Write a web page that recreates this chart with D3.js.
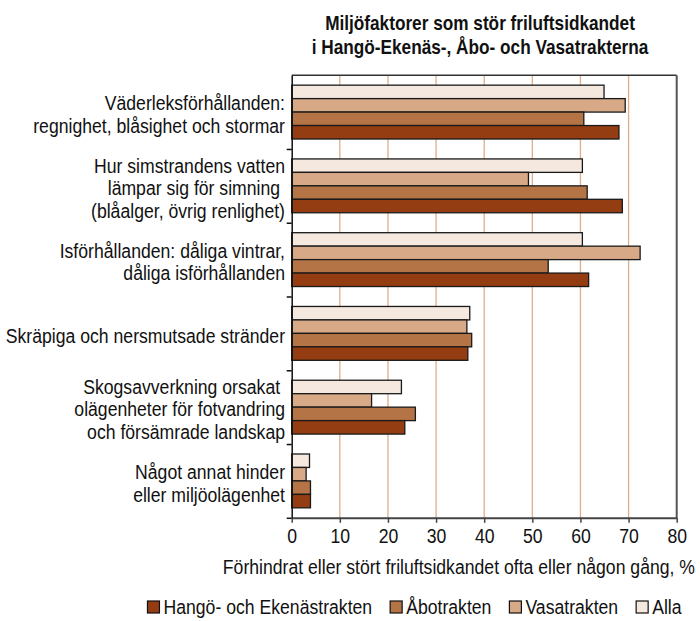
<!DOCTYPE html>
<html>
<head>
<meta charset="utf-8">
<script src="https://cdn.jsdelivr.net/npm/d3@7"></script>
<style>
  body { margin: 0; background: #fff; }
  text { font-family: "Liberation Sans", Arial, sans-serif; }
</style>
</head>
<body>
<div id="chart"></div>
<script>
// chart data
var categories = [
    ['Väderleksförhållanden:', 'regnighet, blåsighet och stormar'],
    ['Hur simstrandens vatten', 'lämpar sig för simning ', '(blåalger, övrig renlighet)'],
    ['Isförhållanden: dåliga vintrar,', 'dåliga isförhållanden'],
    ['Skräpiga och nersmutsade stränder'],
    ['Skogsavverkning orsakat ', 'olägenheter för fotvandring', 'och försämrade landskap'],
    ['Något annat hinder', 'eller miljöolägenhet']
]
var seriesNames = ['Hangö- och Ekenästrakten', 'Åbotrakten', 'Vasatrakten', 'Alla']
var hango = [68.0, 68.7, 61.7, 36.6, 23.5, 3.9]
var abo   = [60.7, 61.4, 53.3, 37.4, 25.7, 3.9]
var vasa  = [69.3, 49.2, 72.4, 36.4, 16.6, 3.0]
var alla  = [64.9, 60.4, 60.4, 37.0, 22.8, 3.7]
var xTicks = [0, 10, 20, 30, 40, 50, 60, 70, 80]
var titleLines = ['Miljöfaktorer som stör friluftsidkandet', 'i Hangö-Ekenäs-, Åbo- och Vasatrakterna']
var xTitle = 'Förhindrat eller stört friluftsidkandet ofta eller någon gång, %'

var colors = {
    'Hangö- och Ekenästrakten' : '#943c12',
    'Åbotrakten' : '#b57446',
    'Vasatrakten' : '#d8a987',
    'Alla' : '#f4e8df'
}
var seriesValues = {
    'Hangö- och Ekenästrakten' : hango,
    'Åbotrakten' : abo,
    'Vasatrakten' : vasa,
    'Alla' : alla
}
// bars run top to bottom in reverse legend order
var barOrder = seriesNames.slice().reverse()

var W = 700, H = 621
var plot = {left: 291.7, right: 676.7, top: 75.2, bottom: 517.8}
var fontSize = 21
var narrow = 0.84      // the original uses a narrow face, squeeze the regular one
var narrowBold = 0.82

var svg = d3.select('#chart')
    .append('svg')
    .attr('width', W)
    .attr('height', H)

function place(px, py, k){
    return 'translate(' + px + ',' + py + ') scale(' + (k || narrow) + ',1)'
}

var x = d3.scaleLinear()
    .domain([0, 80])
    .range([plot.left, plot.right])

var y = d3.scaleBand()
    .domain(d3.range(categories.length))
    .range([plot.top, plot.bottom])
    .paddingInner(0.27)
    .paddingOuter(0.135)

var ySub = d3.scaleBand()
    .domain(barOrder)
    .range([0, y.bandwidth()])

// group boundaries for the tick marks on the left axis
var yEdge = d3.scaleLinear()
    .domain([0, categories.length])
    .range([plot.top, plot.bottom])

// vertical grid lines
svg.append('g')
    .selectAll('line')
    .data(xTicks.filter(d => d > 0 && d < 80))
    .join('line')
    .attr('x1', d => x(d))
    .attr('x2', d => x(d))
    .attr('y1', plot.top)
    .attr('y2', plot.bottom)
    .attr('stroke', '#e0ad88')
    .attr('stroke-width', 1.3)

// frame top + right
svg.append('line')
    .attr('x1', plot.left).attr('x2', plot.right)
    .attr('y1', plot.top).attr('y2', plot.top)
    .attr('stroke', '#333').attr('stroke-width', 1.5)
svg.append('line')
    .attr('x1', plot.right).attr('x2', plot.right)
    .attr('y1', plot.top).attr('y2', plot.bottom)
    .attr('stroke', '#555').attr('stroke-width', 2)

// bars
var groups = svg.append('g')
    .selectAll('g')
    .data(categories.map((c, i) => i))
    .join('g')
    .attr('transform', i => 'translate(0,' + y(i) + ')')

groups.selectAll('rect')
    .data(i => barOrder.map(s => ({series: s, value: seriesValues[s][i]})))
    .join('rect')
    .attr('x', x(0))
    .attr('y', d => ySub(d.series))
    .attr('width', d => x(d.value) - x(0))
    .attr('height', ySub.bandwidth())
    .attr('fill', d => colors[d.series])
    .attr('stroke', '#1a1a1a')
    .attr('stroke-width', 1.3)

// bottom axis
var xAxis = svg.append('g')
    .attr('transform', 'translate(0,' + plot.bottom + ')')
    .call(d3.axisBottom(x).tickValues(xTicks).tickSize(5).tickSizeOuter(0).tickPadding(5))
xAxis.select('.domain').attr('stroke', '#444').attr('stroke-width', 2)
xAxis.selectAll('.tick line').attr('stroke', '#444').attr('stroke-width', 1.5)
xAxis.selectAll('text')
    .style('font-size', fontSize + 'px')
    .style('font-family', '"Liberation Sans", Arial, sans-serif')
    .attr('fill', '#111')
    .attr('transform', 'scale(' + narrow + ',1)')

// left axis with ticks between groups
var yAxis = svg.append('g')
    .attr('transform', 'translate(' + plot.left + ',0)')
    .call(d3.axisLeft(yEdge).tickValues(d3.range(1, categories.length + 1)).tickSize(5).tickSizeOuter(0).tickFormat(''))
yAxis.select('.domain').attr('stroke', '#111').attr('stroke-width', 1.5)
yAxis.selectAll('.tick line').attr('stroke', '#111').attr('stroke-width', 1.5)

// category labels
var lineGap = 22.5
svg.append('g')
    .selectAll('text')
    .data(categories)
    .join('text')
    .attr('text-anchor', 'end')
    .attr('fill', '#111')
    .style('font-size', fontSize + 'px')
    .style('white-space', 'pre')
    .attr('transform', (lines, i) => {
        var cy = y(i) + y.bandwidth() / 2 + 2
        return place(285, cy - (lines.length - 1) * lineGap / 2)
    })
    .each(function(lines){
        d3.select(this).selectAll('tspan')
            .data(lines)
            .join('tspan')
            .attr('x', 0)
            .attr('y', (d, j) => j * lineGap)
            .attr('dy', '0.35em')
            .text(d => d)
    })

// title
svg.append('g')
    .selectAll('text')
    .data(titleLines)
    .join('text')
    .attr('transform', (d, i) => place(480, 30 + i * 24, narrowBold))
    .attr('text-anchor', 'middle')
    .attr('font-weight', 'bold')
    .attr('fill', '#111')
    .style('font-size', fontSize + 'px')
    .text(d => d)

// x axis title
svg.append('text')
    .attr('transform', place(695, 574))
    .attr('text-anchor', 'end')
    .attr('fill', '#111')
    .style('font-size', fontSize + 'px')
    .text(xTitle)

// legend
var legend = svg.append('g').attr('transform', 'translate(0,614)')
var items = legend.selectAll('g')
    .data(seriesNames)
    .join('g')
items.append('rect')
    .attr('width', 12)
    .attr('height', 12)
    .attr('y', -13)
    .attr('fill', d => colors[d])
    .attr('stroke', '#111')
    .attr('stroke-width', 1.2)
items.append('text')
    .attr('transform', place(16, 0))
    .attr('fill', '#111')
    .style('font-size', fontSize + 'px')
    .text(d => d)

var pos = 0
var offsets = []
items.each(function(d){
    offsets.push(pos)
    pos += 16 + this.querySelector('text').getComputedTextLength() * narrow + 18
})
var legendWidth = pos - 18
var legendStart = 414.5 - legendWidth / 2
items.attr('transform', (d, i) => 'translate(' + (legendStart + offsets[i]) + ',0)')
</script>
</body>
</html>
